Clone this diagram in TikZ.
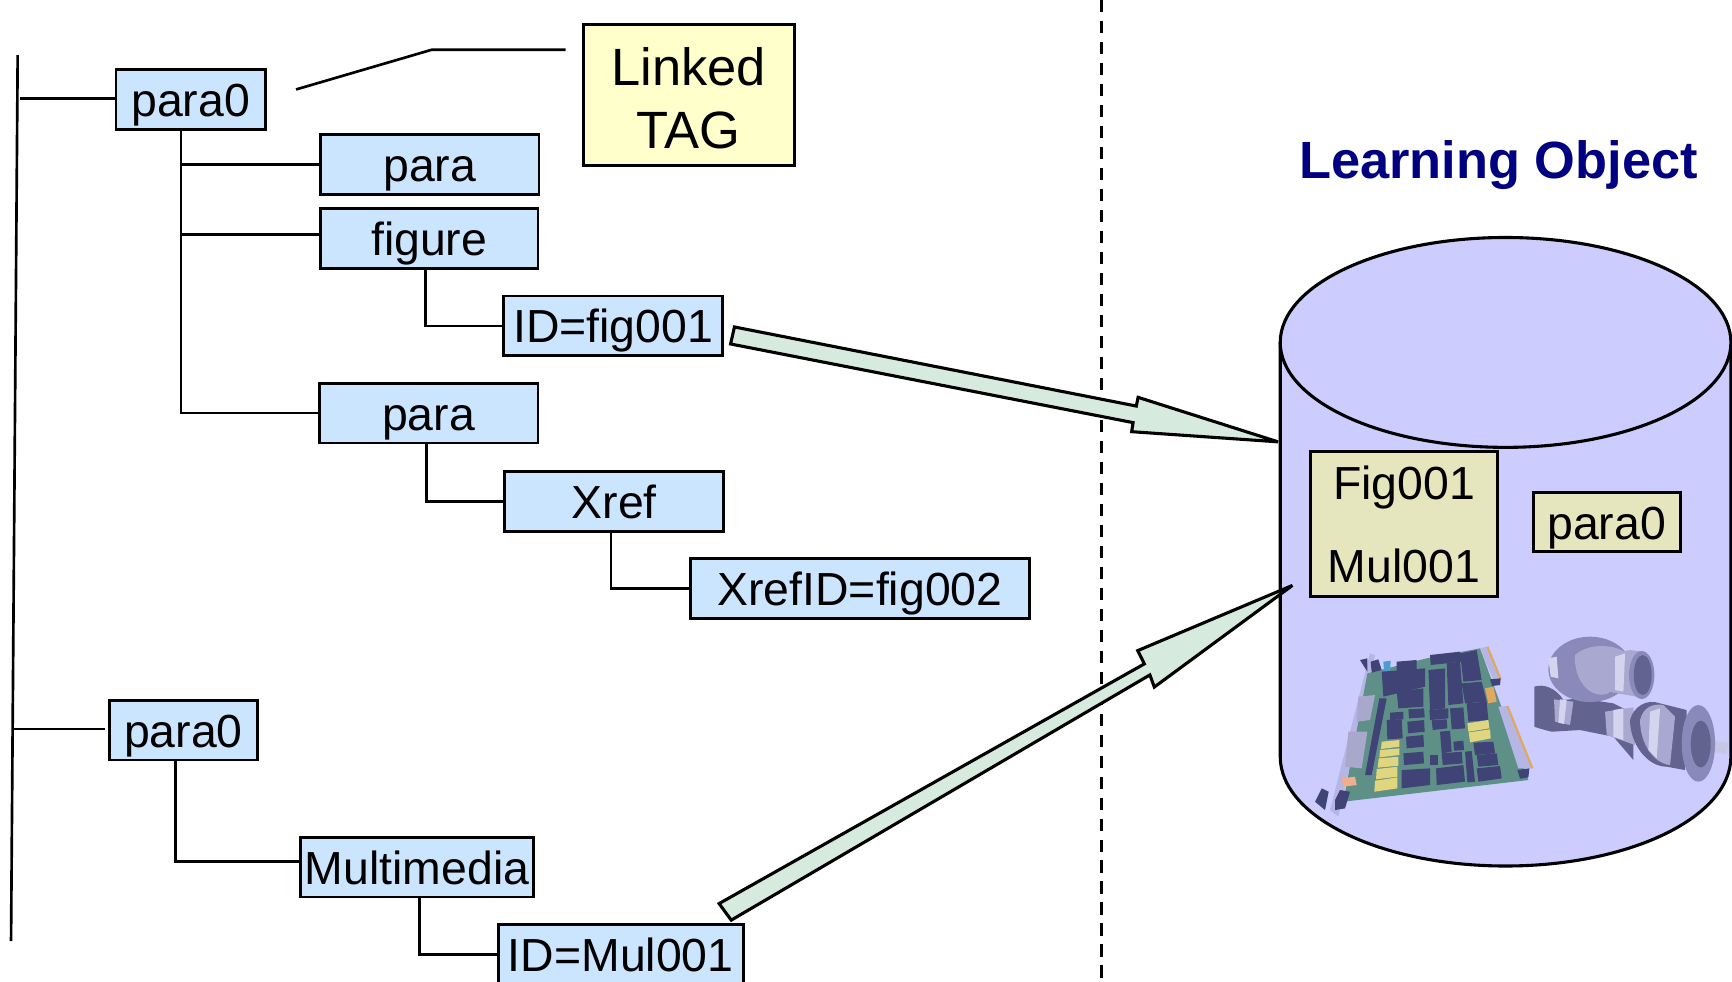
\documentclass[tikz,border=0pt]{standalone}
\usepackage{fontspec}
\setmainfont{Liberation Sans}
\definecolor{boxblue}{HTML}{CCE5FF}
\definecolor{tagyellow}{HTML}{FFFFCC}
\definecolor{innerbox}{HTML}{E6E6BE}
\definecolor{cylfill}{HTML}{CCCCFF}
\definecolor{arrowgreen}{HTML}{D6EBDE}
\definecolor{navytitle}{HTML}{000080}
\definecolor{chip}{HTML}{3F4376}
\definecolor{board}{HTML}{5F9088}
\definecolor{strip}{HTML}{B6B6E6}
\definecolor{yel}{HTML}{E0D680}
\definecolor{ora}{HTML}{E0A860}
\definecolor{gearA}{HTML}{8A8ABA}
\definecolor{gearB}{HTML}{62648F}
\definecolor{gearC}{HTML}{A8A8D0}
\definecolor{gearD}{HTML}{D4D4EE}
\definecolor{bluepart}{HTML}{4F9BD0}
\tikzset{
  x=1pt,y=-1pt,
  xmlbox/.style={draw=black,fill=boxblue,line width=2.6pt,inner sep=0pt,
    font=\fontsize{42}{50}\selectfont,text height=31pt,text depth=0pt},
  innerb/.style={draw=black,fill=innerbox,line width=2.6pt,inner sep=0pt,align=center},
  conn/.style={draw=black,line width=2.4pt},
  blockarrow/.style={draw=black,fill=arrowgreen,line width=2.8pt,miter limit=6},
  chipshape/.style={fill=chip},
  yelshape/.style={fill=yel},
  connshape/.style={fill=strip!75!gray},
}
\begin{document}
\begin{tikzpicture}
\useasboundingbox (0,0) rectangle (1568,889);
\fill[white] (0,0) rectangle (1568,889);
% cylinder
\draw[fill=cylfill,line width=2.8pt] (1159,310) -- (1159,685)
  arc[start angle=180,end angle=0,x radius=204,y radius=99] -- (1567,310);
\draw[fill=cylfill,line width=2.8pt] (1363,310) ellipse[x radius=204,y radius=95];
% circuit board and gears
\begin{scope}[shift={(1158.8,561.3)},x=.3018pt,y=-.3018pt]
  \fill[strip] (270,100) -- (285,105) -- (175,590) -- (150,570) -- cycle;
  \fill[board] (262,160) -- (440,115) -- (600,85) -- (745,480) -- (190,545) -- cycle;
  \fill[strip] (600,85) -- (620,80) -- (660,180) -- (640,180) -- cycle;
  \fill[strip] (655,260) -- (680,258) -- (755,445) -- (715,445) -- cycle;
  \draw[ora,line width=2pt] (622,80) -- (662,178) (682,258) -- (757,445);
  \fill[chip] (630,178) -- (662,175) -- (660,195) -- (636,198) -- cycle;
  \fill[chip] (712,450) -- (748,445) -- (745,472) -- (720,476) -- cycle;
  \fill[chip] (240,120) -- (262,115) -- (262,155) -- cycle;
  \fill[chip] (105,545) -- (125,505) -- (146,515) -- (135,570) -- cycle;
  \fill[chip] (165,540) -- (180,510) -- (210,515) -- (195,565) -- (165,570) -- cycle;
  \fill[chip] (272,125) -- (295,118) -- (305,150) -- (275,158) -- cycle;
  \fill[bluepart] (310,125) -- (332,122) -- (330,155) -- (312,155) -- cycle;
  \foreach \a/\b/\c/\d/\e/\f/\g/\h in {
    365/450/450/445/450/495/365/505, 468/445/550/435/555/485/470/495,
    590/445/660/438/665/475/595/485, 590/405/650/400/655/435/595/440,
    580/368/640/365/645/400/585/405, 370/400/430/395/432/430/372/435,
    378/350/430/345/432/380/380/385, 382/305/432/300/434/335/384/340,
    385/268/432/265/434/292/387/295, 320/300/365/298/368/355/322/358,
    330/278/370/275/370/298/330/300, 485/400/545/395/548/430/488/435,
    480/335/510/332/515/395/485/400, 455/300/500/298/502/325/458/330,
    448/270/505/265/505/295/450/300, 510/265/550/262/555/325/515/328,
    520/365/550/362/552/390/522/392, 560/250/620/245/625/300/565/305,
    350/215/430/205/430/260/355/265, 445/150/495/145/495/265/450/270,
    500/130/540/125/550/250/505/255, 545/190/605/185/620/245/555/250,
    540/100/590/90/605/180/550/185, 450/105/540/95/545/125/452/135,
    350/125/410/120/410/150/350/155, 305/155/435/145/435/200/310/230,
    298/235/320/235/275/465/255/465, 555/395/575/393/585/485/562/487,
    450/405/473/405/473/435/450/435}
    {\fill[chipshape] (\a,\b) -- (\c,\d) -- (\e,\f) -- (\g,\h) -- cycle;}
  \foreach \a/\b/\c/\d/\e/\f/\g/\h in {
    235/230/285/225/270/300/230/305, 205/335/262/335/245/445/195/440}
    {\fill[connshape] (\a,\b) -- (\c,\d) -- (\e,\f) -- (\g,\h) -- cycle;}
  \foreach \a/\b/\c/\d/\e/\f/\g/\h in {
    305/365/358/360/358/380/303/387, 300/390/358/385/358/405/298/412,
    296/415/355/410/355/437/293/443, 290/447/352/440/352/470/288/478,
    285/482/352/472/352/505/283/515, 562/310/625/300/628/325/565/335,
    566/337/630/328/632/355/570/367}
    {\fill[yelshape] (\a,\b) -- (\c,\d) -- (\e,\f) -- (\g,\h) -- cycle;}
  \fill[ora!70!red!60!white] (185,475) -- (225,470) -- (230,495) -- (190,500) -- cycle;
  \fill[ora] (615,205) -- (640,200) -- (650,245) -- (625,250) -- cycle;
  % gears
  \fill[gearB] (763,200) .. controls (790,190) and (830,205) .. (850,240)
    -- (900,235) -- (1000,250) -- (1060,280) -- (1060,420) -- (1000,350)
    -- (900,330) -- (815,335) .. controls (795,330) and (775,325) .. (763,320) -- cycle;
  \fill[gearC] (822,238) -- (880,245) -- (870,315) -- (825,305) -- cycle;
  \fill[gearD] (840,238) -- (860,240) -- (852,312) -- (835,308) -- cycle;
  \fill[gearA] (930,148) ellipse[x radius=125,y radius=98];
  \fill[gearD] (805,115) -- (830,110) -- (835,175) -- (812,170) -- cycle;
  \fill[gearC] (885,105) .. controls (930,65) and (1010,75) .. (1040,100)
     -- (985,220) .. controls (930,240) and (880,180) .. (885,105) -- cycle;
  \fill[gearC] (975,105) -- (1050,90) -- (1085,95) -- (1070,230) -- (985,215) -- cycle;
  \fill[gearD] (1005,110) -- (1035,100) -- (1030,215) -- (1005,210) -- cycle;
  \fill[gearA] (1085,165) ellipse[x radius=38,y radius=72];
  \fill[gearB] (1088,165) ellipse[x radius=27,y radius=60];
  \fill[gearC] (975,275) -- (1060,262) -- (1065,375) -- (980,345) -- cycle;
  \fill[gearD] (1000,270) -- (1030,265) -- (1030,360) -- (1000,350) -- cycle;
  \fill[gearB] (1050,300) .. controls (1060,260) and (1100,235) .. (1140,250)
     -- (1220,270) -- (1215,450) -- (1160,440) .. controls (1100,440) and (1050,370) .. (1050,300) -- cycle;
  \fill[gearC] (1080,300) .. controls (1090,260) and (1120,250) .. (1150,255)
     -- (1185,290) -- (1170,435) .. controls (1120,430) and (1080,370) .. (1080,300) -- cycle;
  \fill[gearD] (1110,275) -- (1140,265) -- (1130,415) -- (1105,390) -- cycle;
  \fill[gearD!70!gearC] (1295,362) -- (1345,368) -- (1340,402) -- (1290,395) -- cycle;
  \fill[gearA] (1255,370) ellipse[x radius=50,y radius=115];
  \fill[gearB] (1262,372) ellipse[x radius=30,y radius=70];
\end{scope}
% separator
\coordinate (septop) at (997.5,0);
\coordinate (sepbot) at (997.5,889);
\draw[black,line width=2.6pt,dash pattern=on 11pt off 8pt] (septop) -- (sepbot);
% block arrows
\draw[blockarrow] (664.9,296) -- (1028.7,367.6) -- (1030.3,359.7) -- (1157,400)
  -- (1024.5,390.8) -- (1025.8,382.6) -- (661.4,311.4) -- cycle;
\draw[blockarrow] (651,818) -- (1036,601) -- (1030,589) -- (1170,530)
  -- (1045,622) -- (1041,611) -- (662,833) -- cycle;
% tree nodes
\node[xmlbox,minimum width=135pt,minimum height=54pt] (para0a) at (172.5,90) {para0};
\node[xmlbox,minimum width=198pt,minimum height=54pt] (para1) at (389,149) {para};
\node[xmlbox,minimum width=197pt,minimum height=54pt] (figure) at (388.5,216) {figure};
\node[xmlbox,minimum width=198pt,minimum height=54pt] (idfig) at (555,295) {ID=fig001};
\node[xmlbox,minimum width=198pt,minimum height=54pt] (para2) at (388,374) {para};
\node[xmlbox,minimum width=198pt,minimum height=54pt] (xref) at (556,454) {Xref};
\node[xmlbox,minimum width=307pt,minimum height=54pt] (xrefid) at (778.5,533) {XrefID=fig002};
\node[xmlbox,minimum width=134pt,minimum height=54pt] (para0b) at (166,661) {para0};
\node[xmlbox,minimum width=211pt,minimum height=54pt] (multi) at (377.5,785) {Multimedia};
\node[xmlbox,minimum width=222pt,minimum height=54pt] (idmul) at (562,864) {ID=Mul001};
\node[draw=black,fill=tagyellow,line width=2.6pt,inner sep=0pt,align=center,
  minimum width=191pt,minimum height=128pt,font=\fontsize{47.5}{57}\selectfont] (tag) at (623.5,86) {\rule{0pt}{41pt}Linked\\TAG};
\node[font=\fontsize{47.4}{57}\selectfont\bfseries,text=navytitle,inner sep=0pt] (title) at (1356.5,149) {Learning Object};
\node[innerb,minimum width=170pt,minimum height=131pt,font=\fontsize{42}{75}\selectfont] (fig) at (1271,474.5) {Fig001\\Mul001};
\node[xmlbox,fill=innerbox,minimum width=133pt,minimum height=53pt] (para0c) at (1454.5,472.5) {para0};
% connectors
\coordinate (trunkT) at (16,50);
\coordinate (trunkB) at (10,852);
\coordinate (br1) at (18,89);
\coordinate (br2) at (12,660);
\coordinate (br2e) at (95,660);
\coordinate (t1) at (164,117);
\coordinate (t1a) at (164,149);
\coordinate (t1b) at (164,212);
\coordinate (t2) at (385,243);
\coordinate (t3) at (386,401);
\coordinate (t4) at (553,481);
\coordinate (t5) at (159,688);
\coordinate (t5b) at (159,780);
\coordinate (t6) at (380,812);
\coordinate (la) at (268,81);
\coordinate (lb) at (391,45);
\coordinate (lc) at (512,45);
\draw[conn] (trunkT) -- (trunkB);
\draw[conn] (br1) -- (br1 -| para0a.west);
\draw[conn] (br2) -- (br2e);
\draw[conn] (t1) |- (para2.west);
\draw[conn] (t1a) -- (para1.west);
\draw[conn] (t1b) -- (t1b -| figure.west);
\draw[conn] (t2) |- (idfig.west);
\draw[conn] (t3) |- (xref.west);
\draw[conn] (t4) |- (xrefid.west);
\draw[conn] (t5) -- (t5b) -- (t5b -| multi.west);
\draw[conn] (t6) |- (idmul.west);
\draw[conn] (la) -- (lb) -- (lc);
\end{tikzpicture}
\end{document}
